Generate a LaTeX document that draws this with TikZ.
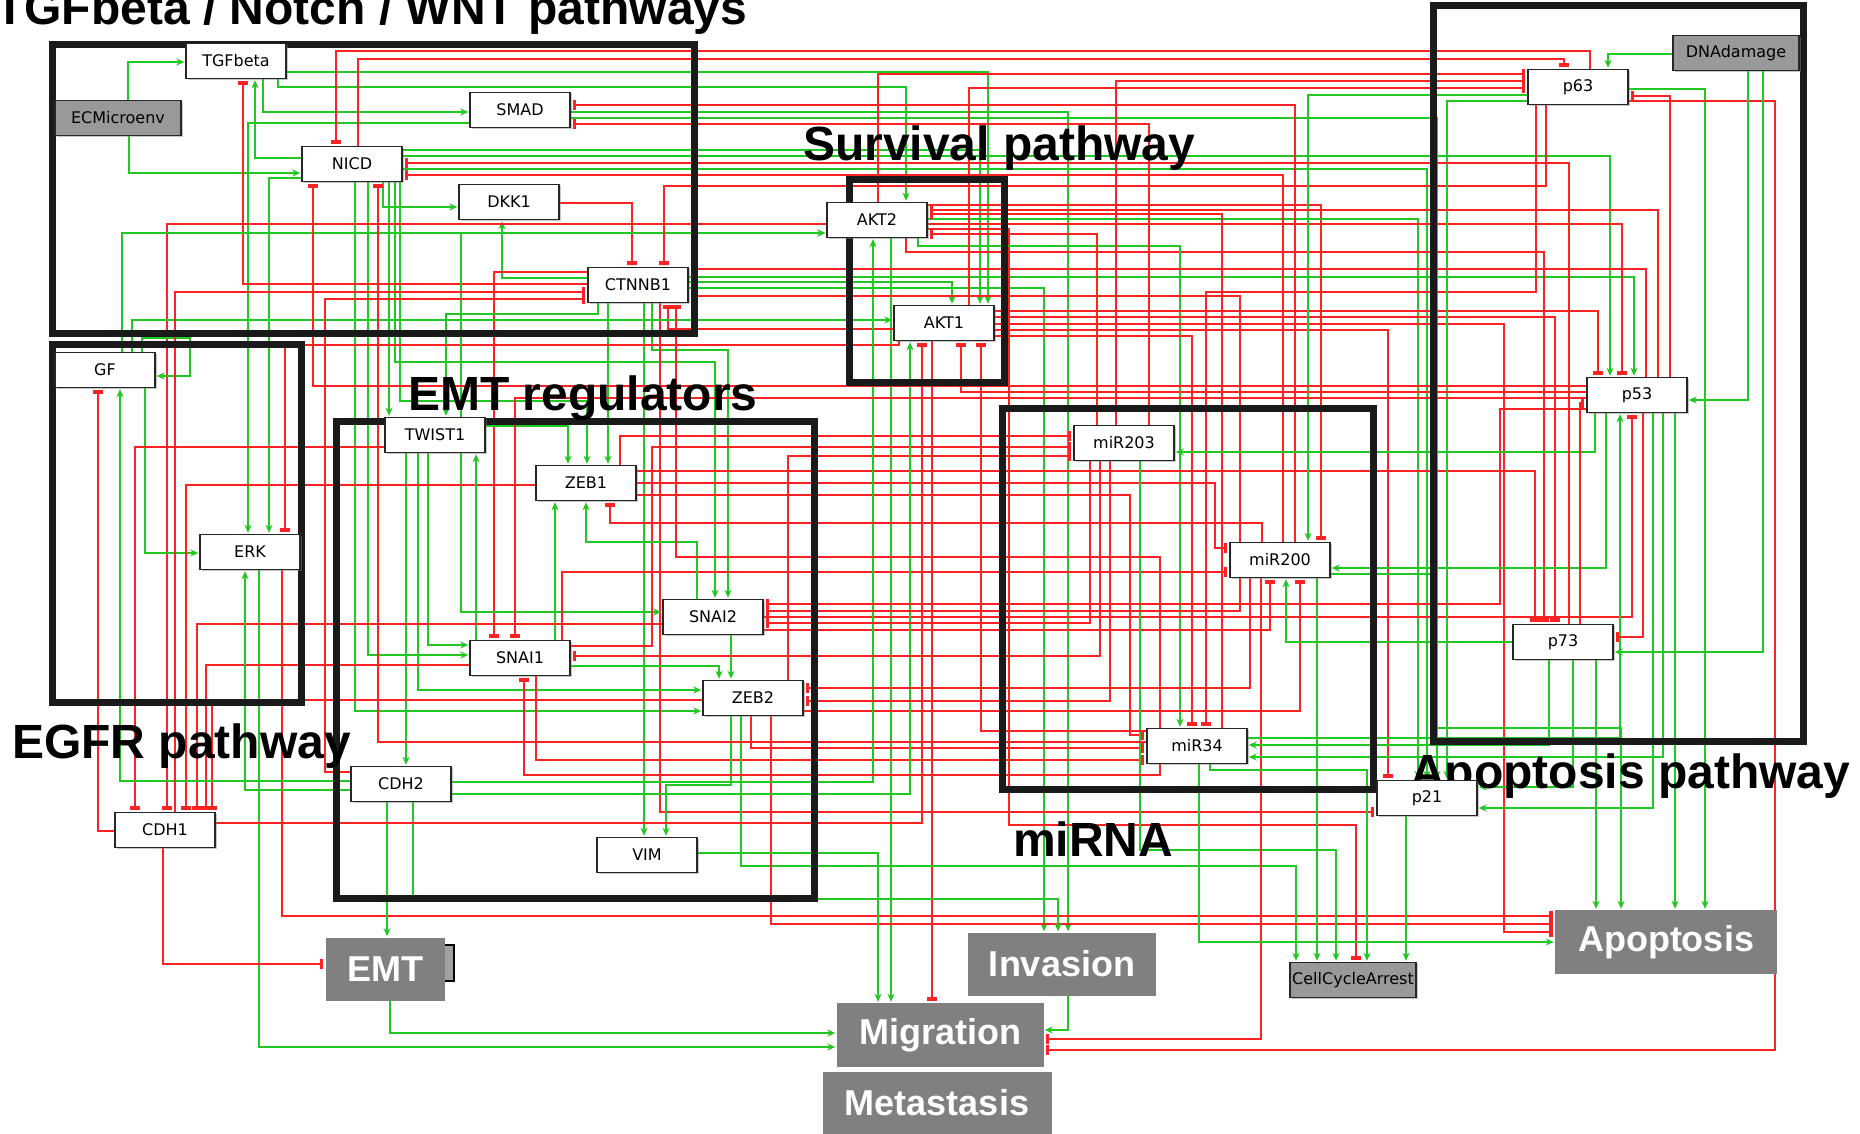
\documentclass[tikz,border=0pt]{standalone}
\usepackage{fontspec}
\setmainfont{DejaVu Sans}
\newfontfamily\headfont{Liberation Sans}
\usetikzlibrary{arrows.meta,shadows}
\definecolor{ActClr}{RGB}{34,200,34}
\definecolor{InhClr}{RGB}{255,34,34}
\definecolor{FrameClr}{RGB}{26,26,26}
\definecolor{PhenClr}{RGB}{128,128,128}
\definecolor{InpClr}{RGB}{153,153,153}
\pgfdeclarelayer{edgelayer}
\pgfdeclarelayer{framelayer}
\pgfsetlayers{edgelayer,framelayer,main}

\begin{document}
\begin{tikzpicture}[x=1pt,y=-1pt,
  gene/.style={draw=black!85,line width=1.4pt,fill=white,minimum width=100pt,minimum height=35pt,inner sep=0pt,
    font=\fontsize{16}{18}\selectfont,drop shadow={shadow xshift=1.5pt,shadow yshift=-1.5pt,opacity=.45}},
  inp/.style={gene,fill=InpClr,minimum width=126pt},
  phen/.style={fill=PhenClr,inner sep=0pt,text=white,font=\headfont\bfseries\fontsize{36}{40}\selectfont},
  act/.style={draw=ActClr,line width=1.3pt,-{Stealth[length=8pt,width=7pt,inset=2.5pt]},shorten >=1pt},
  inh/.style={draw=InhClr,line width=1.3pt,-{Rectangle[length=3.5pt,width=10pt]},shorten >=2pt},
  module/.style={draw=FrameClr,line width=7pt},
  title/.style={anchor=base west,inner sep=0pt,font=\headfont\bfseries\fontsize{48}{52}\selectfont}]
\useasboundingbox (0,0) rectangle (1860,1134);

\node[gene] (TGFbeta) at (236,61) {TGFbeta};
\node[inp] (ECMicroenv) at (118,118) {ECMicroenv};
\node[gene] (SMAD) at (520,110) {SMAD};
\node[gene] (NICD) at (352,164) {NICD};
\node[gene] (DKK1) at (509,202) {DKK1};
\node[gene] (CTNNB1) at (638,285) {CTNNB1};
\node[gene] (AKT2) at (877,220) {AKT2};
\node[gene] (AKT1) at (944,323) {AKT1};
\node[gene] (GF) at (105,370) {GF};
\node[gene] (ERK) at (250,552) {ERK};
\node[gene] (TWIST1) at (435,435) {TWIST1};
\node[gene] (ZEB1) at (586,483) {ZEB1};
\node[gene] (SNAI2) at (713,617) {SNAI2};
\node[gene] (SNAI1) at (520,658) {SNAI1};
\node[gene] (ZEB2) at (753,698) {ZEB2};
\node[gene] (CDH2) at (401,784) {CDH2};
\node[gene] (CDH1) at (165,830) {CDH1};
\node[gene] (VIM) at (647,855) {VIM};
\node[gene] (miR203) at (1124,443) {miR203};
\node[gene] (miR200) at (1280,560) {miR200};
\node[gene] (miR34) at (1197,746) {miR34};
\node[gene] (p63) at (1578,87) {p63};
\node[inp] (DNAdamage) at (1736,53) {DNAdamage};
\node[gene] (p53) at (1637,395) {p53};
\node[gene] (p73) at (1563,642) {p73};
\node[gene] (p21) at (1427,798) {p21};
\node[inp] (CellCycleArrest) at (1353,980) {CellCycleArrest};
\node[phen,minimum width=119pt,minimum height=63pt] (EMT) at (385,969) {EMT};
\node[phen,minimum width=188pt,minimum height=63pt] (Invasion) at (1062,964) {Invasion};
\node[phen,minimum width=222pt,minimum height=64pt] (Apoptosis) at (1666,942) {Apoptosis};
\node[phen,minimum width=207pt,minimum height=64pt] (Migration) at (940,1035) {Migration};
\node[phen,minimum width=229pt,minimum height=63pt] (Metastasis) at (937,1103) {Metastasis};

\begin{pgfonlayer}{framelayer}
\draw[module] (52,45) rectangle (694,333);
\draw[module] (52,344) rectangle (301,702);
\draw[module] (336,421) rectangle (814,898);
\draw[module] (849,180) rectangle (1004,382);
\draw[module] (1002,408) rectangle (1373,789);
\draw[module] (1433,6) rectangle (1803,741);
\filldraw[fill=black!37,draw=black,line width=1.3pt] (440,945) rectangle (454,981);
\node[title] at (-5,25) {TGFbeta / Notch / WNT pathways};
\node[title] at (803,161) {Survival pathway};
\node[title] at (408,410) {EMT regulators};
\node[title] at (12,758) {EGFR pathway};
\node[title] at (1013,856) {miRNA};
\node[title] at (1410,788) {Apoptosis pathway};
\end{pgfonlayer}

\begin{pgfonlayer}{edgelayer}
\draw[act] (ECMicroenv.north-|128,0) |- (TGFbeta.west|-0,62);
\draw[act] (ECMicroenv.south-|129,0) |- (NICD.west|-0,173);
\draw[act] (TGFbeta.south-|263,0) |- (SMAD.west|-0,112);
\draw[act] (TGFbeta.south-|278,0) -- (278,87) -| (AKT2.north-|906,0);
\draw[act] (TGFbeta.east|-0,72) -| (AKT1.north-|988,0);
\draw[act] (SMAD.west|-0,123) -| (ERK.north-|248,0);
\draw[act] (SMAD.east|-0,112) -| (Invasion.north-|1068,0);
\draw[act] (SMAD.east|-0,118) -| (p21.north-|1437,0);
\draw[act] (NICD.west|-0,158) -| (TGFbeta.south-|255,0);
\draw[act] (NICD.west|-0,178) -| (ERK.north-|269,0);
\draw[act] (NICD.east|-0,150) -| (AKT1.north-|980,0);
\draw[act] (NICD.east|-0,156) -| (p53.north-|1610,0);
\draw[act] (NICD.east|-0,169) -| (p21.north-|1427,0);
\draw[act] (NICD.south-|383,0) |- (DKK1.west|-0,207);
\draw[act] (NICD.south-|389,0) -- (TWIST1.north-|389,0);
\draw[act] (NICD.south-|395,0) -- (395,362) -| (SNAI2.north-|715,0);
\draw[act] (NICD.south-|400,0) -- (400,401) -| (ZEB1.north-|587,0);
\draw[act] (NICD.south-|368,0) |- (SNAI1.west|-0,655);
\draw[act] (NICD.south-|355,0) |- (ZEB2.west|-0,711);
\draw[inh] (NICD.north-|358,0) -- (358,59) -| (p63.north-|1564,0);
\draw[inh] (DKK1.east|-0,203) -| (CTNNB1.north-|632,0);
\draw[inh] (CTNNB1.west|-0,284) -| (TGFbeta.south-|243,0);
\draw[act] (CTNNB1.west|-0,278) -| (DKK1.south-|502,0);
\draw[inh] (CTNNB1.west|-0,272) -| (SNAI1.north-|494,0);
\draw[act] (CTNNB1.east|-0,277) -| (p53.north-|1634,0);
\draw[act] (CTNNB1.east|-0,282) -| (AKT1.north-|952,0);
\draw[act] (CTNNB1.east|-0,288) -| (Invasion.north-|1044,0);
\draw[act] (CTNNB1.south-|598,0) -- (598,314) -| (TWIST1.north-|446,0);
\draw[act] (CTNNB1.south-|608,0) -- (ZEB1.north-|608,0);
\draw[act] (CTNNB1.south-|644,0) -- (VIM.north-|644,0);
\draw[act] (CTNNB1.south-|652,0) -- (652,350) -| (SNAI2.north-|728,0);
\draw[inh] (CTNNB1.south-|660,0) |- (p21.west|-0,812);
\draw[inh] (AKT2.north-|878,0) |- (p63.west|-0,74);
\draw[inh] (AKT2.west|-0,224) -| (CDH1.north-|167,0);
\draw[inh] (AKT2.east|-0,205) -| (miR200.north-|1321,0);
\draw[act] (AKT2.east|-0,219) -| (p21.north-|1418,0);
\draw[inh] (AKT2.east|-0,224) -| (p53.north-|1622,0);
\draw[inh] (AKT2.east|-0,229) -- (1009,229) -- (1009,825) -| (CellCycleArrest.north-|1356,0);
\draw[act] (AKT2.south-|891,0) -- (Migration.north-|891,0);
\draw[inh] (AKT2.south-|906,0) -- (906,252) -| (p73.north-|1544,0);
\draw[act] (AKT2.south-|918,0) -- (918,246) -| (miR34.north-|1180,0);
\draw[inh] (AKT1.north-|969,0) |- (p63.west|-0,88);
\draw[inh] (AKT1.west|-0,329) -| (CTNNB1.south-|668,0);
\draw[inh] (AKT1.south-|899,0) -- (899,345) -| (ERK.north-|285,0);
\draw[inh] (AKT1.east|-0,311) -| (p53.north-|1598,0);
\draw[inh] (AKT1.east|-0,317) -| (p73.north-|1555,0);
\draw[inh] (AKT1.east|-0,324) -- (1504,324) |- (Apoptosis.west|-0,932);
\draw[inh] (AKT1.east|-0,330) -| (p21.north-|1388,0);
\draw[inh] (AKT1.east|-0,336) -| (miR34.north-|1192,0);
\draw[inh] (AKT1.south-|932,0) -- (Migration.north-|932,0);
\draw[act] (GF.north-|122,0) |- (AKT2.west|-0,233);
\draw[act] (GF.north-|132,0) |- (AKT1.west|-0,320);
\draw[act] (GF.north-|142,0) -- (142,338) -- (190,338) |- (GF.east|-0,376);
\draw[act] (GF.south-|145,0) |- (ERK.west|-0,553);
\draw[act] (ERK.south-|259,0) |- (Migration.west|-0,1047);
\draw[inh] (ERK.south-|282,0) |- (Apoptosis.west|-0,916);
\draw[inh] (TWIST1.west|-0,447) -| (CDH1.north-|135,0);
\draw[act] (TWIST1.north-|461,0) |- (AKT2.west|-0,233);
\draw[act] (TWIST1.east|-0,426) -| (ZEB1.north-|568,0);
\draw[act] (TWIST1.south-|406,0) -- (CDH2.north-|406,0);
\draw[act] (TWIST1.south-|418,0) |- (ZEB2.west|-0,690);
\draw[act] (TWIST1.south-|428,0) |- (SNAI1.west|-0,645);
\draw[act] (TWIST1.south-|461,0) |- (SNAI2.west|-0,612);
\draw[inh] (ZEB1.west|-0,485) -| (CDH1.north-|186,0);
\draw[inh] (ZEB1.north-|620,0) |- (miR203.west|-0,436);
\draw[inh] (ZEB1.east|-0,471) -| (p73.north-|1535,0);
\draw[inh] (ZEB1.east|-0,483) -- (1215,483) |- (miR200.west|-0,548);
\draw[inh] (ZEB1.east|-0,495) -- (1130,495) |- (miR34.west|-0,735);
\draw[inh] (SNAI1.west|-0,665) -| (CDH1.north-|206,0);
\draw[act] (SNAI1.north-|476,0) -- (TWIST1.south-|476,0);
\draw[act] (SNAI1.north-|555,0) -- (ZEB1.south-|555,0);
\draw[inh] (SNAI1.north-|562,0) |- (miR200.west|-0,572);
\draw[inh] (SNAI1.east|-0,646) -- (652,646) |- (miR203.west|-0,447);
\draw[act] (SNAI1.east|-0,666) -| (ZEB2.north-|719,0);
\draw[inh] (SNAI1.south-|536,0) |- (miR34.west|-0,760);
\draw[inh] (SNAI2.west|-0,624) -| (CDH1.north-|197,0);
\draw[act] (SNAI2.north-|697,0) -- (697,542) -| (ZEB1.south-|586,0);
\draw[act] (SNAI2.south-|731,0) -- (ZEB2.north-|731,0);
\draw[inh] (SNAI2.east|-0,617) -| (p53.south-|1632,0);
\draw[inh] (SNAI2.east|-0,630) -| (miR200.south-|1270,0);
\draw[inh] (ZEB2.west|-0,700) -| (CDH1.north-|212,0);
\draw[inh] (ZEB2.north-|788,0) |- (miR203.west|-0,456);
\draw[inh] (ZEB2.east|-0,711) -| (miR200.south-|1300,0);
\draw[act] (ZEB2.south-|731,0) -- (731,785) -| (VIM.north-|666,0);
\draw[act] (ZEB2.south-|741,0) -- (741,866) -| (CellCycleArrest.north-|1296,0);
\draw[inh] (ZEB2.south-|751,0) |- (miR34.west|-0,748);
\draw[inh] (ZEB2.south-|771,0) |- (Apoptosis.west|-0,924);
\draw[act] (CDH2.south-|387,0) -- (EMT.north-|387,0);
\draw[act] (CDH2.south-|413,0) -- (413,899) -| (Invasion.north-|1058,0);
\draw[inh] (CDH2.west|-0,772) -| (325,299) -- (CTNNB1.west|-0,299);
\draw[act] (CDH2.west|-0,781) -| (GF.south-|120,0);
\draw[act] (CDH2.west|-0,790) -| (ERK.south-|245,0);
\draw[act] (CDH2.east|-0,782) -| (AKT2.south-|873,0);
\draw[act] (CDH2.east|-0,794) -| (AKT1.south-|910,0);
\draw[inh] (CDH1.south-|163,0) |- (EMT.west|-0,964);
\draw[inh] (CDH1.north-|175,0) |- (CTNNB1.west|-0,292);
\draw[inh] (CDH1.west|-0,831) -| (GF.south-|98,0);
\draw[inh] (CDH1.east|-0,823) -| (AKT1.south-|922,0);
\draw[act] (VIM.east|-0,853) -| (Migration.north-|878,0);
\draw[act] (EMT.south-|390,0) |- (Migration.west|-0,1033);
\draw[act] (Invasion.south-|1068,0) |- (Migration.east|-0,1030);
\draw[inh] (miR203.north-|1097,0) |- (AKT2.east|-0,234);
\draw[inh] (miR203.north-|1116,0) |- (p63.west|-0,81);
\draw[inh] (miR203.north-|1149,0) |- (SMAD.east|-0,124);
\draw[inh] (miR203.south-|1090,0) |- (SNAI2.east|-0,623);
\draw[inh] (miR203.south-|1100,0) |- (SNAI1.east|-0,656);
\draw[inh] (miR203.south-|1110,0) |- (ZEB2.east|-0,701);
\draw[act] (miR203.south-|1140,0) -- (1140,850) -| (CellCycleArrest.north-|1336,0);
\draw[inh] (miR200.north-|1240,0) |- (CTNNB1.east|-0,296);
\draw[inh] (miR200.north-|1262,0) -- (1262,523) -| (ZEB1.south-|610,0);
\draw[inh] (miR200.north-|1283,0) |- (NICD.east|-0,175);
\draw[inh] (miR200.north-|1295,0) |- (SMAD.east|-0,105);
\draw[inh] (miR200.south-|1240,0) |- (SNAI2.east|-0,611);
\draw[inh] (miR200.south-|1250,0) |- (ZEB2.east|-0,688);
\draw[inh] (miR200.south-|1261,0) |- (Migration.east|-0,1039);
\draw[act] (miR200.south-|1317,0) -- (CellCycleArrest.north-|1317,0);
\draw[act] (miR200.east|-0,574) -| (1434,728) -| (Apoptosis.north-|1621,0);
\draw[inh] (miR34.west|-0,742) -| (NICD.south-|378,0);
\draw[inh] (miR34.west|-0,731) -| (AKT1.south-|981,0);
\draw[inh] (miR34.north-|1160,0) -- (1160,557) -| (CTNNB1.south-|676,0);
\draw[inh] (miR34.north-|1222,0) |- (AKT2.east|-0,214);
\draw[inh] (miR34.south-|1160,0) -- (1160,775) -| (SNAI1.south-|524,0);
\draw[act] (miR34.south-|1199,0) |- (Apoptosis.west|-0,942);
\draw[act] (miR34.south-|1210,0) -- (1210,770) -| (CellCycleArrest.north-|1367,0);
\draw[act] (miR34.east|-0,738) -| (p53.south-|1620,0);
\draw[inh] (p63.north-|1590,0) -- (1590,51) -| (NICD.north-|336,0);
\draw[inh] (p63.south-|1546,0) -- (1546,186) -| (CTNNB1.north-|664,0);
\draw[inh] (p63.south-|1536,0) -- (1536,292) -| (miR34.north-|1206,0);
\draw[act] (p63.west|-0,95) -| (miR200.north-|1308,0);
\draw[act] (p63.west|-0,101) -| (p21.north-|1447,0);
\draw[act] (p63.east|-0,89) -| (Apoptosis.north-|1705,0);
\draw[inh] (p63.east|-0,101) -- (1775,101) |- (Migration.east|-0,1050);
\draw[inh] (p53.west|-0,386) -| (NICD.south-|313,0);
\draw[inh] (p53.west|-0,392) -| (AKT1.south-|961,0);
\draw[inh] (p53.west|-0,398) -| (SNAI1.north-|515,0);
\draw[inh] (p53.west|-0,409) -- (1500,409) |- (SNAI2.east|-0,604);
\draw[inh] (p53.north-|1646,0) |- (CTNNB1.east|-0,269);
\draw[inh] (p53.north-|1658,0) |- (AKT2.east|-0,210);
\draw[inh] (p53.north-|1670,0) |- (p63.east|-0,96);
\draw[act] (p53.south-|1595,0) |- (miR203.east|-0,452);
\draw[act] (p53.south-|1606,0) |- (miR200.east|-0,568);
\draw[inh] (p53.south-|1643,0) |- (p73.east|-0,637);
\draw[act] (p53.south-|1653,0) |- (p21.east|-0,808);
\draw[act] (p53.south-|1663,0) |- (miR34.east|-0,757);
\draw[act] (p53.south-|1675,0) -- (Apoptosis.north-|1675,0);
\draw[inh] (p73.north-|1569,0) |- (NICD.east|-0,163);
\draw[inh] (p73.north-|1580,0) |- (p53.west|-0,403);
\draw[act] (p73.west|-0,642) -| (miR200.south-|1286,0);
\draw[act] (p73.south-|1549,0) |- (miR34.east|-0,745);
\draw[act] (p73.south-|1573,0) |- (p21.east|-0,787);
\draw[act] (p73.south-|1596,0) -- (Apoptosis.north-|1596,0);
\draw[act] (DNAdamage.west|-0,54) -| (p63.north-|1608,0);
\draw[act] (DNAdamage.south-|1748,0) |- (p53.east|-0,400);
\draw[act] (DNAdamage.south-|1763,0) |- (p73.east|-0,652);
\draw[act] (p21.south-|1406,0) -- (CellCycleArrest.north-|1406,0);
\end{pgfonlayer}
\end{tikzpicture}
\end{document}
